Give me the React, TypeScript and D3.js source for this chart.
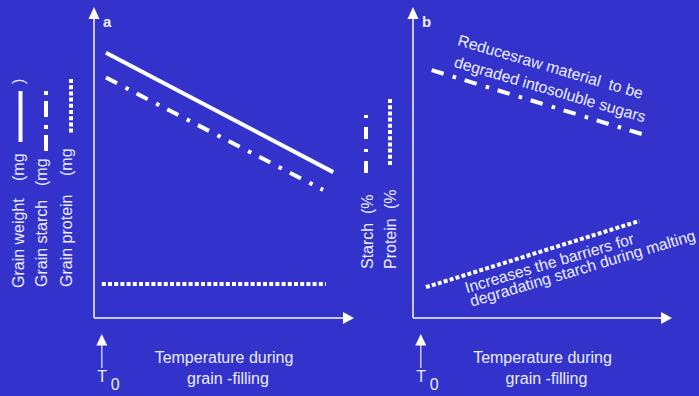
import React from "react";
import * as d3 from "d3";

const WIDTH = 699;
const HEIGHT = 396;

// Panel a: grain weight / starch / protein (mg) against temperature during grain filling
const weightTemp = [4.6, 92];
const weightMg = [85.3, 46.9];
const starchTempA = [4.6, 88.1];
const starchMgA = [77.3, 41.2];
const proteinTempA = [3, 89.2];
const proteinMgA = [10.9, 10.9];

// Panel b: starch / protein (%) against temperature during grain filling
const starchTempB = [7.2, 88.5];
const starchPctB = [79.7, 59.1];
const proteinTempB = [5, 87.4];
const proteinPctB = [9.9, 31.2];

// Reference temperature marker on the x axis
const T0 = 3;

const BG = "#3333CC";
const TEXT = "#ececff";
const AXIS = "#c8c8f4";
const LINE = "#ffffff";
const FONT = "'Liberation Sans', Arial, Helvetica, sans-serif";
const FS = 16;
const NOTE_FS = 15.8;

const DASH_DOT = "12.5,9.5,3.5,9";
const DOTTED = "4,2.2";

const y = d3.scaleLinear().domain([0, 100]).range([318, 7]);
const xA = d3.scaleLinear().domain([0, 100]).range([94, 354]);
const xB = d3.scaleLinear().domain([0, 100]).range([413, 672]);

function series(xs: number[], ys: number[]): [number, number][] {
  return xs.map((v, i) => [v, ys[i]] as [number, number]);
}

function linePath(xScale: d3.ScaleLinear<number, number>, pts: [number, number][]) {
  return (
    d3
      .line<[number, number]>()
      .x((d) => xScale(d[0]))
      .y((d) => y(d[1]))(pts) || ""
  );
}

function Axes({ xScale, label }: { xScale: d3.ScaleLinear<number, number>; label: string }) {
  const x0 = xScale(0);
  const x1 = xScale(100);
  const y0 = y(0);
  const y1 = y(100);
  const mx = xScale(T0);
  return (
    <g>
      <line x1={x0} y1={y0} x2={x0} y2={y1 + 11} stroke={AXIS} strokeWidth={2} />
      <path d={`M${x0},${y1} L${x0 - 5.5},${y1 + 12} L${x0 + 5.5},${y1 + 12} Z`} fill={LINE} />
      <line x1={x0} y1={y0} x2={x1 - 10} y2={y0} stroke={AXIS} strokeWidth={2} />
      <path d={`M${x1},${y0} L${x1 - 11},${y0 - 6} L${x1 - 11},${y0 + 6} Z`} fill={LINE} />
      <text x={x0 + 9} y={27} fill={TEXT} fontFamily={FONT} fontWeight="bold" fontSize={15}>
        {label}
      </text>
      {/* T0 marker */}
      <line x1={mx} y1={344} x2={mx} y2={368} stroke={AXIS} strokeWidth={1.5} />
      <path d={`M${mx},${334} L${mx - 5.5},${345.5} L${mx + 5.5},${345.5} Z`} fill={LINE} />
      <text x={mx - 4.5} y={382} fill={TEXT} fontFamily={FONT} fontSize={FS}>
        T
      </text>
      <text x={mx + 9} y={389.5} fill={TEXT} fontFamily={FONT} fontSize={FS}>
        0
      </text>
      <text x={xScale(50)} y={363} textAnchor="middle" fill={TEXT} fontFamily={FONT} fontSize={FS}>
        Temperature during
      </text>
      <text x={xScale(50) + 4} y={384} textAnchor="middle" fill={TEXT} fontFamily={FONT} fontSize={FS}>
        grain -filling
      </text>
    </g>
  );
}

function VText({ x, y: yy, children }: { x: number; y: number; children: React.ReactNode }) {
  return (
    <text
      transform={`translate(${x},${yy}) rotate(-90)`}
      fill={TEXT}
      fontFamily={FONT}
      fontSize={FS}
      style={{ whiteSpace: "pre" }}
    >
      {children}
    </text>
  );
}

export default function App() {
  return (
    <svg
      width={WIDTH}
      height={HEIGHT}
      style={{ position: "fixed", left: 0, top: 0, background: BG }}
    >
      <rect x={0} y={0} width={WIDTH} height={HEIGHT} fill={BG} />

      {/* Panel a */}
      <Axes xScale={xA} label="a" />
      <path d={linePath(xA, series(weightTemp, weightMg))} stroke={LINE} strokeWidth={4} fill="none" />
      <path
        d={linePath(xA, series(starchTempA, starchMgA))}
        stroke={LINE}
        strokeWidth={4}
        fill="none"
        strokeDasharray={DASH_DOT}
      />
      <path
        d={linePath(xA, series(proteinTempA, proteinMgA))}
        stroke={LINE}
        strokeWidth={4}
        fill="none"
        strokeDasharray={DOTTED}
      />

      {/* Panel a y-axis titles with line keys */}
      <VText x={23.5} y={288}>Grain weight</VText>
      <VText x={23.5} y={181}>(mg</VText>
      <VText x={23.5} y={84}>)</VText>
      <line x1={20.5} y1={91} x2={20.5} y2={142} stroke={LINE} strokeWidth={4} />

      <VText x={47} y={287}>Grain starch</VText>
      <VText x={47} y={186}>(mg</VText>
      <line x1={46} y1={91} x2={46} y2={151} stroke={LINE} strokeWidth={4} strokeDasharray="4,6,16,8" />

      <VText x={71.5} y={287}>Grain protein</VText>
      <VText x={71.5} y={176}>(mg</VText>
      <line x1={71} y1={79} x2={71} y2={133} stroke={LINE} strokeWidth={4} strokeDasharray={DOTTED} />

      {/* Panel b */}
      <Axes xScale={xB} label="b" />
      <path
        d={linePath(xB, series(starchTempB, starchPctB))}
        stroke={LINE}
        strokeWidth={4}
        fill="none"
        strokeDasharray={DASH_DOT}
      />
      <path
        d={linePath(xB, series(proteinTempB, proteinPctB))}
        stroke={LINE}
        strokeWidth={4}
        fill="none"
        strokeDasharray={DOTTED}
      />

      <VText x={372.5} y={269}>Starch</VText>
      <VText x={372.5} y={214}>(%</VText>
      <line x1={366} y1={115} x2={366} y2={173} stroke={LINE} strokeWidth={4} strokeDasharray="3,9,12,10" />

      <VText x={396} y={269}>Protein</VText>
      <VText x={396} y={209}>(%</VText>
      <line x1={390} y1={99} x2={390} y2={165} stroke={LINE} strokeWidth={4} strokeDasharray={DOTTED} />

      {/* Panel b annotations */}
      <g transform={`translate(456.7,45) rotate(16.3)`}>
        <text fill={TEXT} fontFamily={FONT} fontSize={NOTE_FS} style={{ whiteSpace: "pre" }}>
          <tspan x={0} y={0}>Reducesraw material  to be</tspan>
          <tspan x={2.8} y={21.8}>degraded intosoluble sugars</tspan>
        </text>
      </g>
      <g transform={`translate(466.7,293.3) rotate(-16.5)`}>
        <text fill={TEXT} fontFamily={FONT} fontSize={NOTE_FS} style={{ whiteSpace: "pre" }}>
          <tspan x={0} y={0}>Increases the barriers for</tspan>
          <tspan x={1} y={14.3}>degradating starch during malting</tspan>
        </text>
      </g>
    </svg>
  );
}
